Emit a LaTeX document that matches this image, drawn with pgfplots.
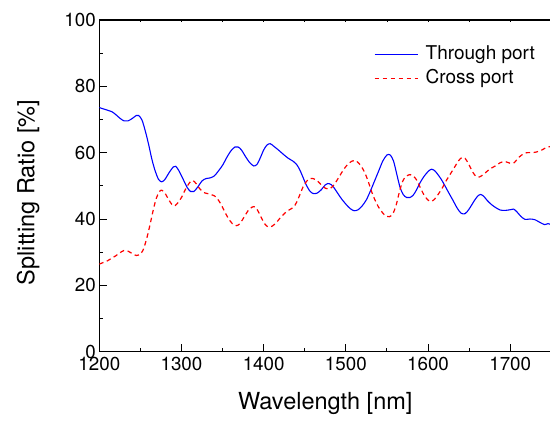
\documentclass[border=0pt]{standalone}
\usepackage{fontspec}
\setmainfont{TeX Gyre Heros}
\usepackage{pgfplots}
\usepackage{pgfplotstable}
\pgfplotsset{compat=1.18}
\pgfplotstableread{
x y
1200 73.6
1205 73.2
1210 72.8
1215 72.4
1220 71.5
1225 70.4
1230 69.6
1235 69.6
1240 70.3
1245 71.2
1248 71.2
1252 69.8
1256 66.5
1260 62.5
1264 58.0
1268 54.5
1272 52.0
1276 51.2
1280 52.0
1285 54.0
1290 55.7
1293 55.9
1297 54.5
1302 52.0
1307 49.5
1311 48.3
1315 48.3
1320 49.7
1325 51.5
1330 52.2
1335 52.4
1340 53.0
1345 54.5
1350 56.2
1355 58.5
1360 60.5
1365 61.7
1369 61.7
1373 60.8
1378 58.8
1383 57.0
1388 56.0
1392 56.5
1396 58.5
1400 60.8
1404 62.3
1408 62.7
1412 62.0
1418 60.8
1424 59.5
1430 58.3
1436 57.4
1440 56.5
1444 54.8
1448 52.5
1452 50.2
1456 48.5
1460 47.7
1465 47.8
1470 48.8
1475 50.3
1478 50.7
1482 50.4
1486 49.3
1490 47.8
1495 46.0
1500 44.5
1505 43.2
1510 42.5
1515 42.8
1520 44.0
1525 45.8
1530 48.5
1535 51.5
1540 54.5
1545 57.5
1550 59.3
1554 59.3
1558 57.5
1562 53.5
1566 49.5
1570 47.3
1574 46.5
1578 46.5
1582 47.2
1586 48.8
1590 50.8
1595 52.8
1600 54.3
1604 55.0
1608 54.6
1612 53.4
1616 52.0
1620 50.3
1625 48.0
1630 45.8
1635 43.5
1640 41.8
1645 41.6
1650 43.0
1655 45.0
1660 46.8
1664 47.4
1668 46.8
1672 45.6
1677 44.4
1682 43.5
1688 42.7
1694 42.6
1700 42.8
1704 43.0
1708 42.2
1713 40.8
1718 39.9
1724 40.0
1730 39.8
1736 39.0
1742 38.3
1746 38.6
1750 38.3
}\through
\pgfplotstableread{
x y
1200 26.4
1205 26.9
1210 27.4
1215 28.2
1220 28.9
1225 29.8
1230 30.5
1235 30.3
1240 29.6
1245 29.0
1249 29.2
1253 30.5
1257 33.5
1261 37.5
1265 42.0
1269 46.0
1273 48.2
1276 48.7
1280 47.8
1284 46.0
1289 44.2
1292 44.0
1296 45.0
1300 46.5
1305 49.0
1310 51.0
1314 51.6
1318 50.6
1322 49.2
1327 48.0
1333 47.6
1340 47.0
1344 46.0
1348 44.5
1352 42.5
1357 40.2
1362 38.6
1367 38.0
1371 38.6
1376 40.5
1381 42.5
1386 43.6
1390 43.6
1394 42.0
1398 40.0
1402 38.3
1406 37.6
1410 37.8
1415 38.8
1420 40.3
1425 41.6
1430 42.6
1436 43.5
1440 45.0
1444 47.3
1448 49.7
1452 51.3
1456 52.2
1460 52.2
1465 51.6
1470 50.3
1475 49.3
1479 49.0
1483 49.6
1487 50.8
1492 52.8
1497 54.8
1502 56.4
1507 57.4
1511 57.7
1515 57.0
1519 55.8
1523 54.0
1527 51.5
1531 48.5
1535 46.0
1540 43.5
1545 41.8
1549 40.8
1553 40.7
1557 41.5
1561 44.0
1565 48.0
1569 51.3
1573 52.8
1578 53.4
1582 53.0
1586 51.8
1590 49.8
1595 47.3
1600 45.7
1604 45.3
1608 46.0
1612 47.3
1617 49.2
1622 51.5
1627 53.5
1632 55.5
1637 57.5
1641 58.5
1645 58.3
1649 56.8
1653 54.8
1657 53.2
1661 52.6
1665 53.0
1670 54.0
1676 55.2
1682 56.0
1688 57.0
1694 57.3
1700 56.8
1705 57.0
1709 58.2
1714 59.3
1720 60.0
1726 60.0
1732 60.2
1737 60.6
1742 61.3
1746 61.7
1750 61.9
}\cross
\begin{document}
\begin{tikzpicture}
\begin{axis}[
  scale only axis, width=452pt, height=331.7pt,
  xmin=1200, xmax=1750, ymin=0, ymax=100,
  xtick distance=100, ytick distance=20,
  minor x tick num=1, minor y tick num=1,
  tick align=inside, tick pos=left,
  major tick length=8pt, minor tick length=4pt,
  every tick/.style={black, line width=1pt},
  axis line style={line width=1.2pt},
  /pgf/number format/assume math mode=true,
  /pgf/number format/1000 sep={},
  tick label style={font=\fontsize{18.8}{22}\selectfont},
  xticklabel style={yshift=-2pt},
  xlabel={Wavelength [nm]}, ylabel={Splitting Ratio [\%]},
  label style={font=\fontsize{23.5}{28}\selectfont},
  xlabel style={at={(axis description cs:0.5,-0.1756)}, anchor=base},
  ylabel style={at={(axis description cs:-0.1438,0.48)}, anchor=base},
  legend cell align=left,
  legend style={at={(axis description cs:0.6077,0.9237)}, anchor=north west,
    draw=none, fill=none, inner sep=0pt, outer sep=0pt,
    row sep=6pt, column sep=7.5pt,
    font=\fontsize{19}{23}\selectfont,
    nodes={inner sep=0pt, text height=14pt, text depth=4pt}},
  legend image code/.code={\draw[#1] (0pt,0pt) -- (43pt,0pt);},
]
\addplot[blue, line width=1.1pt, smooth] table[x=x,y=y] {\through};
\addlegendentry{Through port}
\addplot[red, line width=1.2pt, dash pattern=on 4.5pt off 3.5pt, smooth] table[x=x,y=y] {\cross};
\addlegendentry{Cross port}
\end{axis}
\begin{axis}[
  scale only axis, width=452pt, height=331.7pt,
  xmin=1200, xmax=1750, ymin=0, ymax=100,
  axis x line*=top, axis y line=none,
  xtick distance=50, xticklabels={},
  tick align=inside, major tick length=2.5pt,
  every tick/.style={black, line width=0.8pt},
  axis line style={draw=none},
]
\end{axis}
\pgfresetboundingbox
\path[use as bounding box] (-99.3pt,-71.3pt) rectangle (450.7pt,351.7pt);
\end{tikzpicture}
\end{document}
